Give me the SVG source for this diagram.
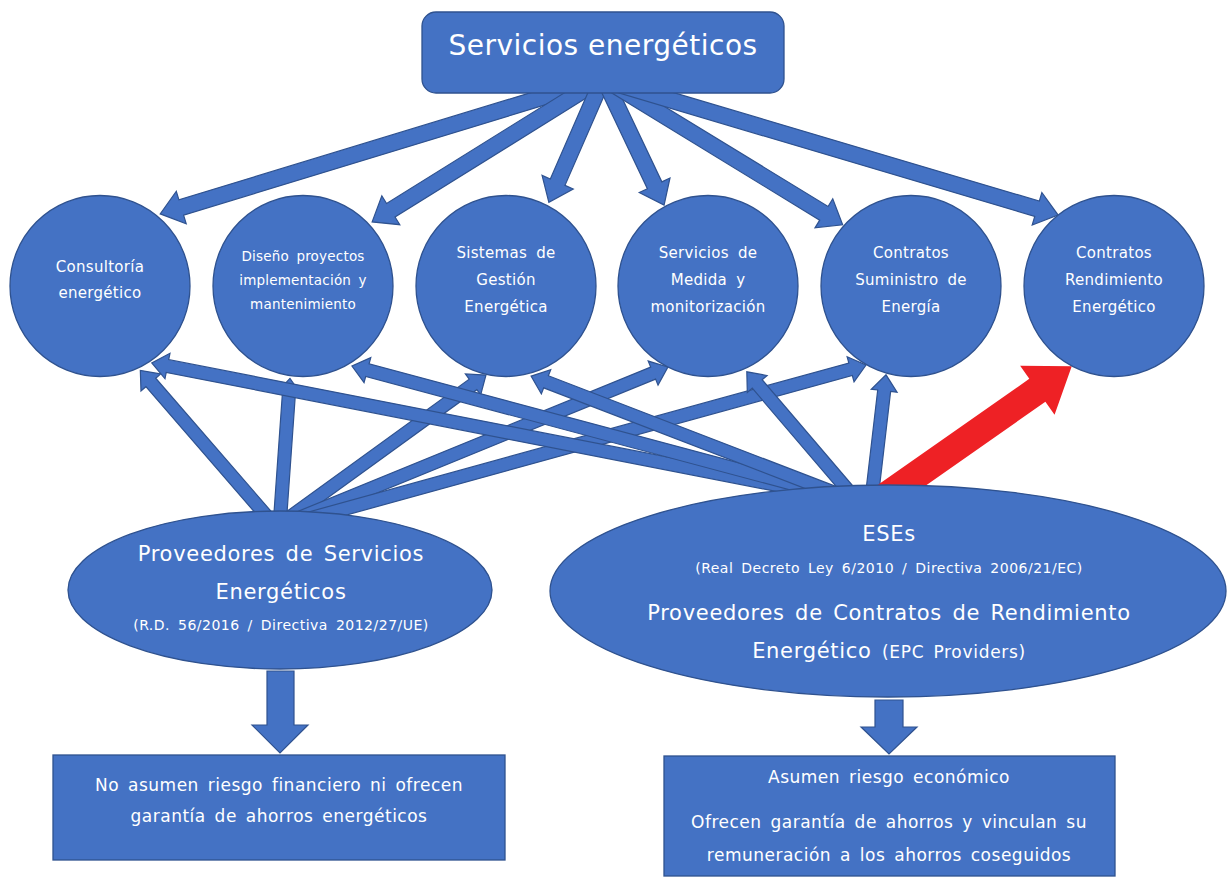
<svg xmlns="http://www.w3.org/2000/svg" width="1227" height="878" viewBox="0 0 1227 878">
<style>
.n{fill:#4472C4;stroke:#2F528F;stroke-width:1.3}
.a{fill:#4472C4;stroke:#2F528F;stroke-width:1.2;stroke-linejoin:miter}
.r{fill:#EE2125}
text{font-family:"DejaVu Sans","Liberation Sans",sans-serif;fill:#ffffff;text-anchor:middle}
.c{font-size:15px;letter-spacing:0.3px;word-spacing:4px}
.c2{font-size:13.5px;letter-spacing:0.2px;word-spacing:3px}
.m{font-size:21px;letter-spacing:0.7px;word-spacing:3px}
.s{font-size:14px;letter-spacing:0.5px;word-spacing:3px}
.b{font-size:17px;letter-spacing:0.5px;word-spacing:3px}
</style>
<rect width="1227" height="878" fill="#ffffff"/>
<g id="connectors">
  <!-- top box to circles -->
  <polygon class="a" transform="translate(583,85) rotate(163.04)" points="0,-8 420,-8 420,-17 442,0 420,17 420,8 0,8"/>
  <polygon class="a" transform="translate(592,85) rotate(148.09)" points="0,-8 237,-8 237,-17 259,0 237,17 237,8 0,8"/>
  <polygon class="a" transform="translate(600,85) rotate(113.55)" points="0,-8 106,-8 106,-17 128,0 106,17 106,8 0,8"/>
  <polygon class="a" transform="translate(607,85) rotate(64.59)" points="0,-8 111,-8 111,-17 133,0 111,17 111,8 0,8"/>
  <polygon class="a" transform="translate(614,85) rotate(31.44)" points="0,-8 246,-8 246,-17 268,0 246,17 246,8 0,8"/>
  <polygon class="a" transform="translate(620,85) rotate(16.53)" points="0,-8 435,-8 435,-17 457,0 435,17 435,8 0,8"/>
  <!-- Proveedores to circles -->
  <polygon class="a" transform="translate(270,520) rotate(-130.91)" points="0,-6.5 182,-6.5 182,-13 198,0 182,13 182,6.5 0,6.5"/>
  <polygon class="a" transform="translate(280,520) rotate(-85.97)" points="0,-6.5 126,-6.5 126,-13 142,0 126,13 126,6.5 0,6.5"/>
  <polygon class="a" transform="translate(286,520) rotate(-35.94)" points="0,-6.5 231,-6.5 231,-13 247,0 231,13 231,6.5 0,6.5"/>
  <polygon class="a" transform="translate(294,520) rotate(-22.25)" points="0,-6.5 388,-6.5 388,-13 404,0 388,13 388,6.5 0,6.5"/>
  <polygon class="a" transform="translate(304,520) rotate(-15.42)" points="0,-6.5 567,-6.5 567,-13 583,0 567,13 567,6.5 0,6.5"/>
  <!-- ESEs to circles -->
  <polygon class="a" transform="translate(828,495) rotate(-168.95)" points="0,-6.5 673,-6.5 673,-13 689,0 673,13 673,6.5 0,6.5"/>
  <polygon class="a" transform="translate(834,495) rotate(-165.02)" points="0,-6.5 483,-6.5 483,-13 499,0 483,13 483,6.5 0,6.5"/>
  <polygon class="a" transform="translate(840,495) rotate(-158.94)" points="0,-6.5 315,-6.5 315,-13 331,0 315,13 315,6.5 0,6.5"/>
  <polygon class="a" transform="translate(852,495) rotate(-130.49)" points="0,-6.5 146,-6.5 146,-13 162,0 146,13 146,6.5 0,6.5"/>
  <polygon class="a" transform="translate(872,495) rotate(-83.35)" points="0,-6.5 105,-6.5 105,-13 121,0 105,13 105,6.5 0,6.5"/>
  <polygon class="r" transform="translate(885,497) rotate(-35.01)" points="0,-14 186,-14 186,-30 228,0 186,30 186,14 0,14"/>
  <!-- down arrows -->
  <polygon class="a" points="267,671 294,671 294,725 308,725 280,753 252,725 267,725"/>
  <polygon class="a" points="875,700 903,700 903,727 917,727 889,754 861,727 875,727"/>
</g>
<g id="servicios">
  <rect class="n" x="422" y="12" width="362" height="81" rx="14"/>
  <text x="603" y="55" style="font-size:28px;letter-spacing:0.5px">Servicios energéticos</text>
</g>
<g id="consultoria">
  <ellipse class="n" cx="100" cy="286" rx="90" ry="90.5"/>
  <text class="c" x="100" y="272">Consultoría</text>
  <text class="c" x="100" y="298">energético</text>
</g>
<g id="diseno">
  <ellipse class="n" cx="303" cy="286" rx="90" ry="90.5"/>
  <text class="c2" x="303" y="261">Diseño proyectos</text>
  <text class="c2" x="303" y="285">implementación y</text>
  <text class="c2" x="303" y="309">mantenimiento</text>
</g>
<g id="sistemas">
  <ellipse class="n" cx="506" cy="286" rx="90" ry="90.5"/>
  <text class="c" x="506" y="258">Sistemas de</text>
  <text class="c" x="506" y="285">Gestión</text>
  <text class="c" x="506" y="312">Energética</text>
</g>
<g id="medida">
  <ellipse class="n" cx="708" cy="286" rx="90" ry="90.5"/>
  <text class="c" x="708" y="258">Servicios de</text>
  <text class="c" x="708" y="285">Medida y</text>
  <text class="c" x="708" y="312">monitorización</text>
</g>
<g id="suministro">
  <ellipse class="n" cx="911" cy="286" rx="90" ry="90.5"/>
  <text class="c" x="911" y="258">Contratos</text>
  <text class="c" x="911" y="285">Suministro de</text>
  <text class="c" x="911" y="312">Energía</text>
</g>
<g id="rendimiento">
  <ellipse class="n" cx="1114" cy="286" rx="90" ry="90.5"/>
  <text class="c" x="1114" y="258">Contratos</text>
  <text class="c" x="1114" y="285">Rendimiento</text>
  <text class="c" x="1114" y="312">Energético</text>
</g>
<g id="proveedores">
  <ellipse class="n" cx="280" cy="590" rx="212" ry="79"/>
  <text class="m" x="281" y="561">Proveedores de Servicios</text>
  <text class="m" x="281" y="599">Energéticos</text>
  <text class="s" x="281" y="630">(R.D. 56/2016 / Directiva 2012/27/UE)</text>
</g>
<g id="eses">
  <ellipse class="n" cx="888" cy="591" rx="338" ry="106"/>
  <text class="m" x="889" y="541">ESEs</text>
  <text class="s" x="889" y="573">(Real Decreto Ley 6/2010 / Directiva 2006/21/EC)</text>
  <text class="m" x="889" y="620">Proveedores de Contratos de Rendimiento</text>
  <text class="m" x="889" y="658">Energético <tspan style="font-size:17px">(EPC Providers)</tspan></text>
</g>
<g id="no-riesgo">
  <rect class="n" x="53" y="755" width="452" height="105"/>
  <text class="b" x="279" y="791">No asumen riesgo financiero ni ofrecen</text>
  <text class="b" x="279" y="822">garantía de ahorros energéticos</text>
</g>
<g id="riesgo">
  <rect class="n" x="664" y="756" width="451" height="120"/>
  <text class="b" x="889" y="783">Asumen riesgo económico</text>
  <text class="b" x="889" y="828">Ofrecen garantía de ahorros y vinculan su</text>
  <text class="b" x="889" y="861">remuneración a los ahorros coseguidos</text>
</g>
</svg>
